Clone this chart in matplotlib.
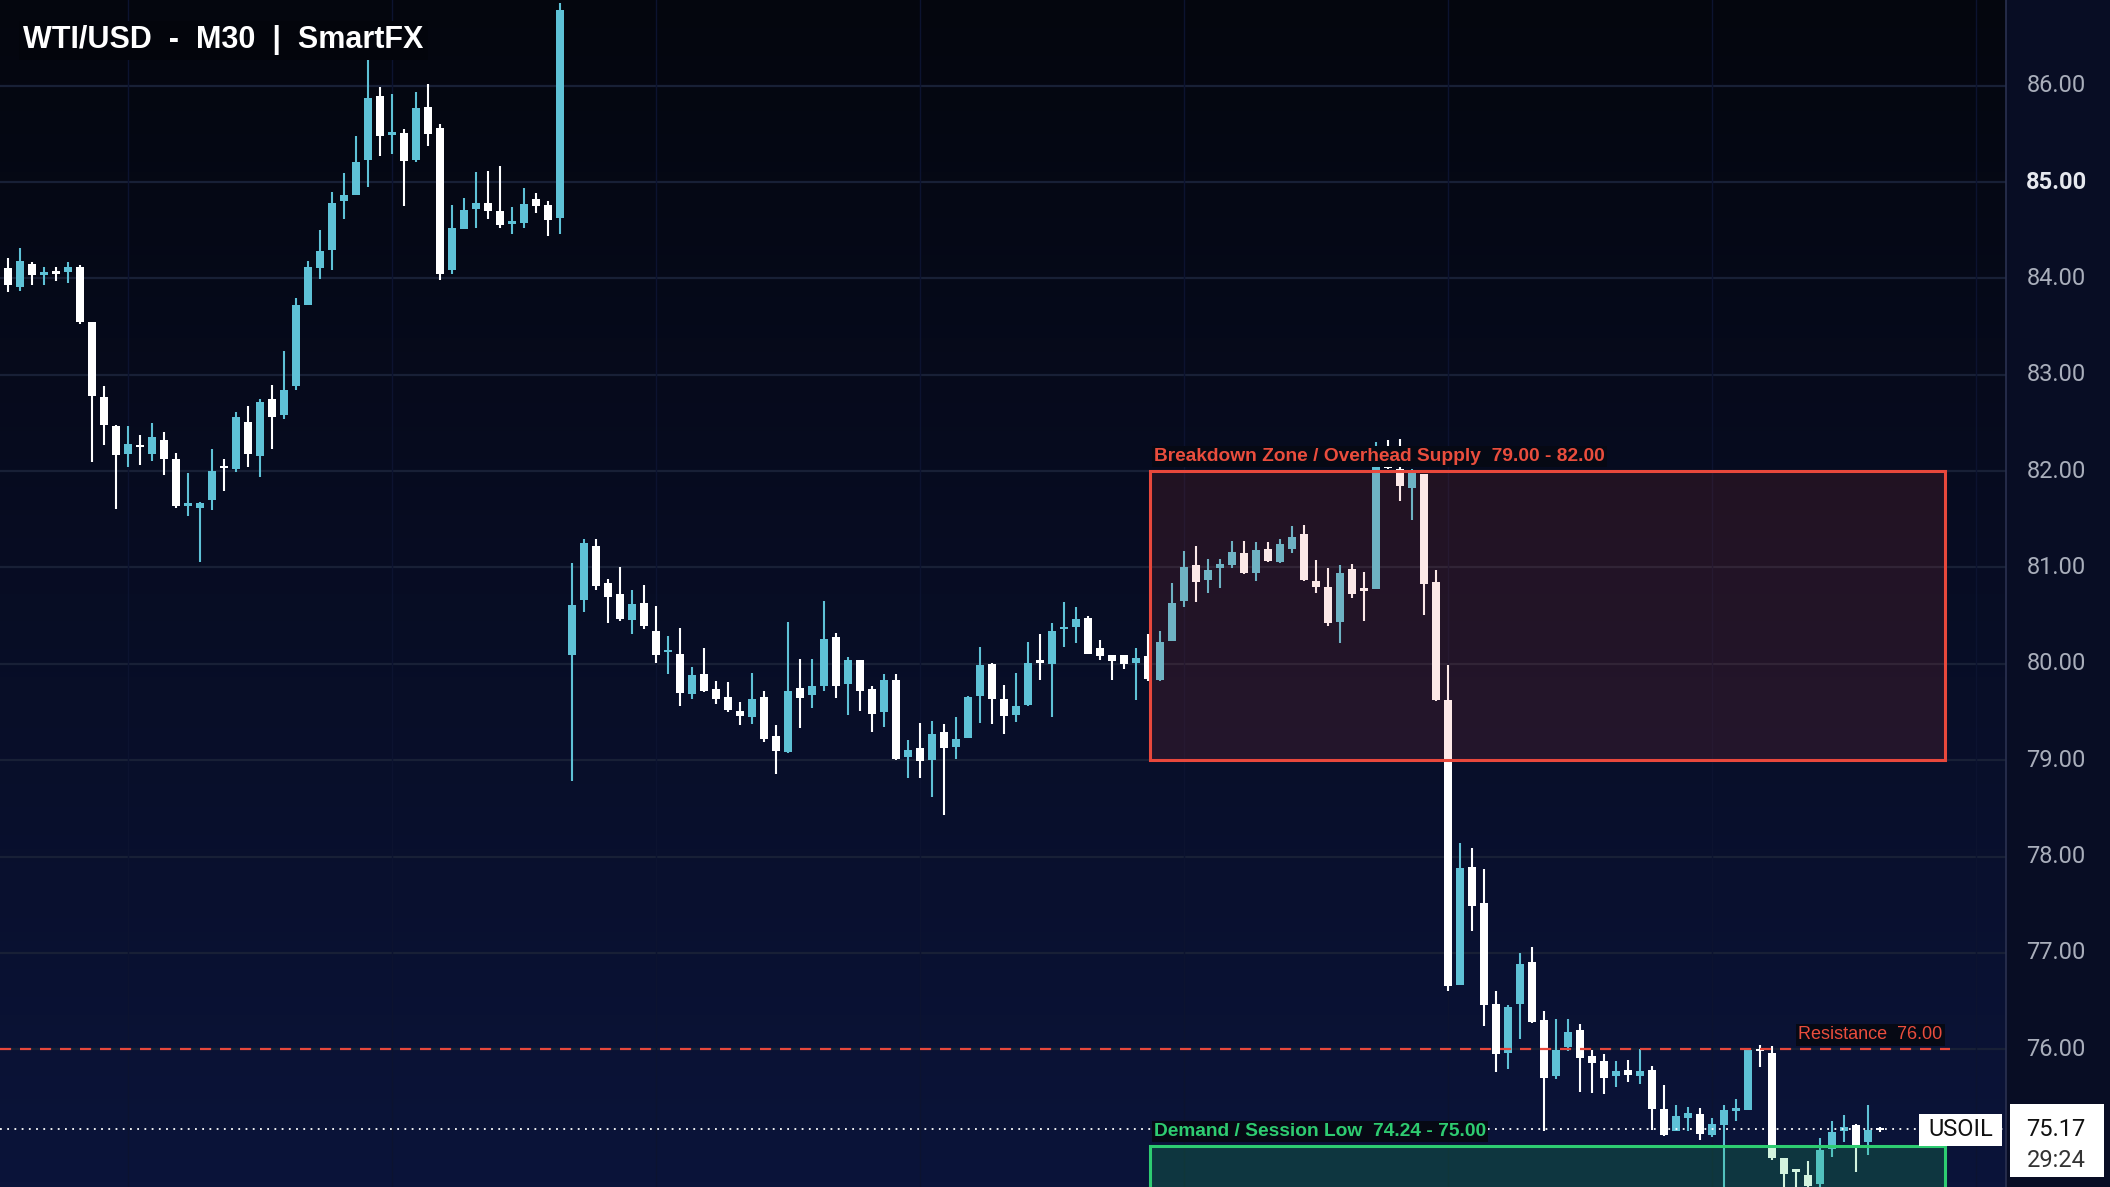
import matplotlib
matplotlib.use("Agg")
import matplotlib.pyplot as plt
import numpy as np
from matplotlib.patches import Rectangle

# ---- data (OHLC, M30) ----
opens = [84.11,83.91,84.15,84.04,84.07,84.07,84.12,83.55,82.77,82.47,82.18,82.27,82.18,82.32,82.13,81.64,81.62,81.70,82.05,82.02,
         82.51,82.16,82.75,82.58,82.88,83.72,84.11,84.30,84.80,84.87,85.23,85.89,85.49,85.51,85.23,85.78,85.56,84.09,84.51,84.72,
         84.78,84.70,84.57,84.58,84.82,84.76,84.63,80.09,80.66,81.22,80.84,80.72,80.45,80.63,80.34,80.12,80.10,79.69,79.89,79.74,
         79.66,79.51,79.45,79.66,79.25,79.08,79.75,79.68,79.77,80.28,79.79,80.04,79.74,79.50,79.83,79.03,79.13,79.00,79.29,79.14,
         79.23,79.67,80.00,79.64,79.47,79.57,80.03,80.00,80.36,80.38,80.48,80.16,80.09,80.09,80.01,80.08,79.83,80.24,80.65,81.03,
         80.87,80.99,81.03,81.15,80.94,81.19,81.06,81.19,81.35,80.86,80.80,80.43,80.98,80.78,80.78,82.06,82.02,81.83,81.97,80.85,
         79.62,76.67,77.89,77.52,76.47,75.96,76.47,76.91,76.30,75.72,76.02,76.20,75.93,75.88,75.72,75.78,75.72,75.78,75.38,75.15,
         75.29,75.33,75.11,75.21,75.36,75.37,76.00,75.96,74.87,74.74,74.69,74.60,74.96,75.15,75.21,75.04,75.17]
highs = [84.21,84.32,84.17,84.12,84.12,84.17,84.14,83.55,82.88,82.48,82.47,82.37,82.50,82.41,82.19,81.98,81.68,82.23,82.13,82.61,
         82.68,82.75,82.89,83.25,83.80,84.18,84.50,84.90,85.09,85.48,86.46,85.99,85.91,85.55,85.94,86.02,85.60,84.76,84.84,85.10,
         85.11,85.17,84.74,84.94,84.89,84.80,86.86,81.05,81.30,81.30,80.88,81.01,80.77,80.82,80.60,80.29,80.37,79.97,80.16,79.82,
         79.81,79.60,79.91,79.72,79.37,80.43,80.05,80.05,80.65,80.32,80.07,80.04,79.77,79.89,79.89,79.21,79.39,79.41,79.38,79.45,
         79.67,80.17,80.01,79.78,79.91,80.23,80.31,80.42,80.64,80.59,80.50,80.25,80.09,80.09,80.16,80.31,80.34,80.84,81.17,81.22,
         81.09,81.09,81.27,81.28,81.26,81.26,81.30,81.43,81.44,81.08,80.99,81.03,81.04,80.95,82.30,82.32,82.33,82.02,81.97,80.97,
         79.99,78.14,78.09,77.87,76.60,76.46,77.00,77.06,76.40,76.31,76.31,76.26,75.99,75.95,75.88,75.89,76.00,75.83,75.63,75.42,
         75.40,75.39,75.29,75.42,75.48,76.01,76.04,76.03,74.87,74.76,74.84,75.08,75.26,75.32,75.22,75.42,75.19]
lows = [83.86,83.87,83.93,83.93,83.97,83.95,83.53,82.10,82.27,81.61,82.04,82.06,82.11,81.96,81.62,81.53,81.06,81.60,81.79,81.99,
        82.04,81.94,82.23,82.54,82.84,83.72,83.99,84.09,84.62,84.87,84.95,85.27,85.29,84.75,85.21,85.37,83.98,84.05,84.51,84.52,
        84.62,84.52,84.46,84.52,84.68,84.44,84.46,78.78,80.54,80.77,80.42,80.44,80.31,80.36,80.01,79.89,79.56,79.63,79.71,79.58,
        79.50,79.37,79.38,79.19,78.86,79.07,79.33,79.54,79.72,79.65,79.47,79.51,79.29,79.34,79.00,78.81,78.82,78.62,78.43,79.01,
        79.23,79.39,79.38,79.27,79.40,79.56,79.83,79.45,80.17,80.22,80.10,80.04,79.83,79.95,79.62,79.82,79.82,80.24,80.59,80.64,
        80.74,80.79,80.99,80.93,80.86,81.06,81.05,81.15,80.86,80.73,80.39,80.22,80.68,80.44,80.78,82.02,81.69,81.49,80.51,79.61,
        76.60,76.67,77.23,76.24,75.76,75.79,76.11,76.27,75.15,75.69,75.98,75.56,75.55,75.54,75.61,75.66,75.64,75.16,75.10,75.15,
        75.15,75.06,75.09,74.55,75.26,75.37,75.82,74.85,74.55,74.55,74.50,74.50,74.88,75.04,74.73,74.90,75.14]
closes = [83.93,84.18,84.04,84.06,84.05,84.12,83.55,82.78,82.48,82.17,82.28,82.25,82.35,82.13,81.64,81.66,81.67,82.00,82.03,82.56,
          82.18,82.72,82.56,82.84,83.72,84.12,84.29,84.78,84.87,85.21,85.87,85.48,85.52,85.22,85.77,85.50,84.05,84.52,84.71,84.78,
          84.70,84.55,84.60,84.77,84.75,84.61,86.79,80.61,81.25,80.81,80.69,80.47,80.62,80.39,80.09,80.13,79.70,79.88,79.72,79.64,
          79.52,79.46,79.63,79.22,79.10,79.72,79.65,79.77,80.26,79.77,80.04,79.72,79.48,79.83,79.01,79.11,78.99,79.27,79.13,79.22,
          79.66,79.99,79.64,79.46,79.56,80.01,80.01,80.34,80.38,80.47,80.10,80.08,80.03,80.00,80.06,79.84,80.23,80.63,81.00,80.85,
          80.97,81.04,81.16,80.94,81.18,81.07,81.24,81.32,80.87,80.80,80.42,80.94,80.72,80.76,82.09,82.03,81.85,82.00,80.83,79.62,
          76.66,77.88,77.49,76.46,75.95,76.44,76.88,76.28,75.70,75.99,76.18,75.91,75.86,75.70,75.77,75.73,75.77,75.38,75.11,75.31,
          75.34,75.12,75.22,75.37,75.37,75.99,75.98,74.87,74.71,74.73,74.58,74.95,75.14,75.19,75.01,75.16,75.16]

yticks = [76, 77, 78, 79, 80, 81, 82, 83, 84, 85, 86]
supply_zone = (79.00, 82.00)
demand_zone = (74.24, 75.00)
resistance = 76.00
last_price = 75.17
timer = "29:24"
symbol = "USOIL"
title = "WTI/USD  -  M30  |  SmartFX"

W, H = 2110, 1187
fig = plt.figure(figsize=(W/100, H/100), dpi=100)
fig.patch.set_facecolor("#080d24")
axw = 2006 / W
ax = fig.add_axes([0, 0, axw, 1])
xlim = (-0.64, 166.5)
ylim = (74.57, 86.89)

grad = np.linspace(0, 1, 256).reshape(-1, 1)
bot = np.array([11, 20, 58]) / 255; top = np.array([4, 6, 14]) / 255
img = bot + (top - bot) * grad[:, :, None] * np.ones((1, 1, 3))
ax.imshow(img, extent=[xlim[0], xlim[1], ylim[0], ylim[1]], origin="lower", aspect="auto", zorder=0)
ax.set_xlim(*xlim); ax.set_ylim(*ylim)
fig.add_artist(plt.Line2D([axw, axw], [0, 1], transform=fig.transFigure, color="#2a3150", lw=1.2))

for y in yticks:
    ax.axhline(y, color="#182036", lw=1.6, zorder=1)
for xv in range(10, 167, 22):
    ax.axvline(xv, color="#0c1330", lw=1, zorder=1)

up_c, dn_c = "#5ec1d6", "#ffffff"
x = np.arange(len(opens))
for i in x:
    o, h, l, c = opens[i], highs[i], lows[i], closes[i]
    col = up_c if c >= o else dn_c
    ax.vlines(i, l, h, color=col, lw=1.5, zorder=3)
    b0 = min(o, c); bh = max(abs(c - o), 0.025)
    ax.add_patch(Rectangle((i - 0.34, b0), 0.68, bh, facecolor=col, edgecolor="none", zorder=4))

zx0, zx1 = 95.2, 161.4
ax.add_patch(Rectangle((zx0, supply_zone[0]), zx1 - zx0, supply_zone[1] - supply_zone[0],
                       facecolor="#e8483c", alpha=0.12, edgecolor="none", zorder=5))
ax.add_patch(Rectangle((zx0, supply_zone[0]), zx1 - zx0, supply_zone[1] - supply_zone[0],
                       facecolor="none", edgecolor="#e8483c", lw=2.2, zorder=6))
ax.add_patch(Rectangle((zx0, demand_zone[0]), zx1 - zx0, demand_zone[1] - demand_zone[0],
                       facecolor="#22c55e", alpha=0.2, edgecolor="none", zorder=5))
ax.add_patch(Rectangle((zx0, demand_zone[0]), zx1 - zx0, demand_zone[1] - demand_zone[0],
                       facecolor="none", edgecolor="#2ecc71", lw=2.2, zorder=6))

lab = dict(family="Liberation Sans", fontweight="bold", va="bottom", ha="left", zorder=7)
ax.text(zx0 + 0.3, supply_zone[1] + 0.06, "Breakdown Zone / Overhead Supply  79.00 - 82.00",
        color="#ea4d3d", fontsize=13.8, bbox=dict(facecolor="#060914", edgecolor="none", pad=1.5), **lab)
ax.text(zx0 + 0.3, demand_zone[1] + 0.06, "Demand / Session Low  74.24 - 75.00",
        color="#2ecc71", fontsize=13.8, bbox=dict(facecolor="#060914", edgecolor="none", pad=1.5), **lab)

ax.plot([xlim[0], 161.8], [resistance, resistance], color="#e8483c", lw=1.6, ls=(0, (5, 4)), zorder=6)
ax.text(149.2, resistance + 0.06, "Resistance  76.00", color="#ea4d3d", fontsize=13, family="Liberation Sans",
        va="bottom", ha="left", zorder=7, bbox=dict(facecolor="#060914", edgecolor="none", pad=1.5))

ax.plot([xlim[0], xlim[1]], [last_price, last_price], color="#ffffff", lw=1.3, ls=(0, (1, 3)), zorder=6)

ax.text(0.0115, 0.966, title, transform=ax.transAxes, color="white", fontsize=22, fontweight="bold",
        family="Liberation Sans", va="center", ha="left", zorder=8,
        bbox=dict(facecolor="#03050c", edgecolor="none", pad=3))
ax.axis("off")

def yfig(v):
    return (v - ylim[0]) / (ylim[1] - ylim[0])
for y in yticks:
    bold = (y == 85)
    fig.text(0.9745, yfig(y), f"{y:.2f}", color="#e6e8ee" if bold else "#a9aebb",
             fontsize=17, fontweight="bold" if bold else "normal", family="Roboto",
             ha="center", va="center")
yl = yfig(last_price)
fig.patches.append(Rectangle((0.9528, yl - 0.040), 0.0445, 0.061,
                             transform=fig.transFigure, facecolor="white", edgecolor="none", zorder=5))
fig.text(0.9745, yl, f"{last_price:.2f}", color="#111", fontsize=17, family="Roboto",
         ha="center", va="center", zorder=6)
fig.text(0.9745, yl - 0.026, timer, color="#333", fontsize=17, family="Roboto",
         ha="center", va="center", zorder=6)
fig.patches.append(Rectangle((1426/1568, yl - 0.014), 62/1568, 0.027,
                             transform=fig.transFigure, facecolor="white", edgecolor="none", zorder=5))
fig.text(1457/1568, yl, symbol, color="#111", fontsize=17, family="Roboto",
         ha="center", va="center", zorder=6)

fig.savefig("out.png", dpi=100)
